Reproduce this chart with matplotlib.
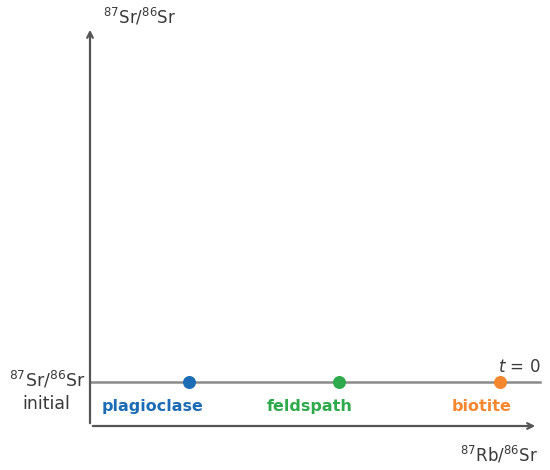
import matplotlib
matplotlib.use("Agg")
import matplotlib.pyplot as plt

# minéraux et rapports isotopiques à t = 0
mineraux = ["plagioclase", "feldspath", "biotite"]
rb_sr = [2.21, 5.56, 9.15]
sr_initial = 1.10
couleurs = ["#1c6cb5", "#2eaa4c", "#f5872f"]

gris = "#8a8a8a"
texte = "#3a3a3a"

fig = plt.figure(figsize=(5.5, 4.7), dpi=100)
ax = fig.add_axes([90 / 550, 44 / 470, 448 / 550, 399 / 470])
ax.set_xlim(0, 10)
ax.set_ylim(0, 10)
ax.axis("off")

# axes fléchés
ax.annotate("", xy=(10, 0), xytext=(0, 0),
            arrowprops=dict(arrowstyle="->", color="#555555", lw=1.6),
            annotation_clip=False)
ax.annotate("", xy=(0, 10), xytext=(0, 0),
            arrowprops=dict(arrowstyle="->", color="#555555", lw=1.6),
            annotation_clip=False)

# isochrone t = 0
ax.plot([0, 10.05], [sr_initial, sr_initial], color=gris, lw=1.8,
        clip_on=False, zorder=2)
decalage = [-0.82, -0.65, -0.40]
for x, nom, c, d in zip(rb_sr, mineraux, couleurs, decalage):
    ax.scatter(x, sr_initial, s=70, color=c, zorder=3, clip_on=False)
    ax.text(x + d, sr_initial - 0.62, nom, color=c, fontsize=11.5,
            fontweight="bold", ha="center", va="center")

ax.text(10.05, sr_initial + 0.38, "$t$ = 0", color=texte, fontsize=12,
        ha="right", va="center")

# libellés
fig.text(103 / 550, 1 - 17 / 470, "$^{87}$Sr/$^{86}$Sr", color=texte,
         fontsize=12, ha="left", va="center")
fig.text(538 / 550, 1 - 455 / 470, "$^{87}$Rb/$^{86}$Sr", color=texte,
         fontsize=12, ha="right", va="center")
fig.text(86 / 550, 1 - 380 / 470, "$^{87}$Sr/$^{86}$Sr", color=texte,
         fontsize=12.5, ha="right", va="center")
fig.text(46 / 550, 1 - 404 / 470, "initial", color=texte,
         fontsize=12.5, ha="center", va="center")

fig.savefig("out.png", dpi=100)
